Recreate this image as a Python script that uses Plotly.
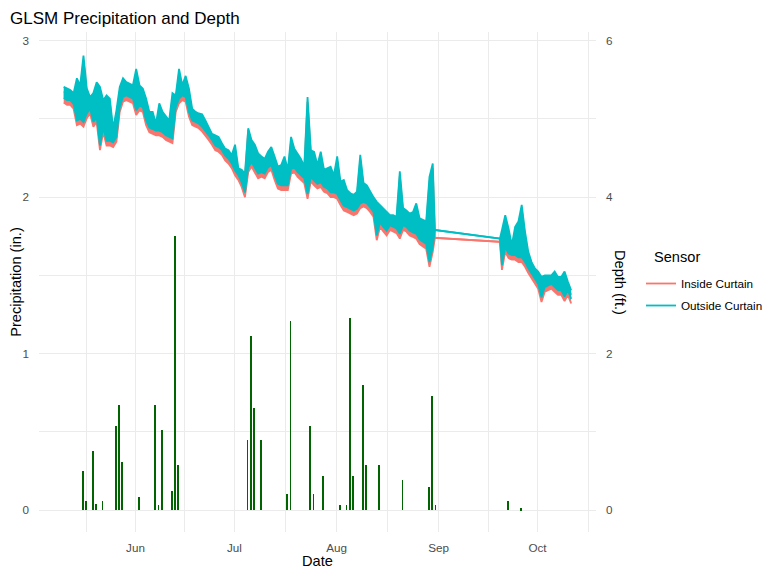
import pandas as pd
import plotly.graph_objects as go

# ---------------- Precipitation (in.) ----------------
precip_dates = [
    "2023-05-16", "2023-05-17", "2023-05-19", "2023-05-20", "2023-05-22",
    "2023-05-26", "2023-05-27", "2023-05-28", "2023-06-02", "2023-06-07",
    "2023-06-08", "2023-06-09", "2023-06-12", "2023-06-13", "2023-06-14",
    "2023-07-05", "2023-07-06", "2023-07-07", "2023-07-09", "2023-07-17",
    "2023-07-18", "2023-07-24", "2023-07-25", "2023-07-28", "2023-08-02",
    "2023-08-04", "2023-08-05", "2023-08-06", "2023-08-09", "2023-08-10",
    "2023-08-14", "2023-08-21", "2023-08-29", "2023-08-30", "2023-08-31",
    "2023-09-22", "2023-09-26",
]
precip_in = [
    0.25, 0.06, 0.38, 0.04, 0.06,
    0.54, 0.67, 0.31, 0.08, 0.67,
    0.03, 0.51, 0.12, 1.75, 0.29,
    0.45, 1.11, 0.65, 0.45, 0.10,
    1.21, 0.54, 0.10, 0.22, 0.03,
    0.03, 1.23, 0.22, 0.80, 0.29,
    0.29, 0.19, 0.15, 0.73, 0.03,
    0.06, 0.01,
]

# ---------------- Depth (ft.): daily high / low of the logger readings ----------------
seg1_start = "2023-05-10 05:00"   # daily samples May 10 .. Aug 30
out_hi_1 = [
    5.41, 5.39, 5.37, 5.33, 5.52, 5.43, 5.81, 5.39, 5.28, 5.33,
    5.47, 5.41, 5.24, 5.30, 5.26, 4.88, 5.11, 5.41, 5.52, 5.47,
    5.45, 5.43, 5.64, 5.43, 5.39, 5.26, 5.09, 5.09, 4.94, 5.20,
    5.09, 5.03, 4.98, 5.33, 5.30, 5.64, 5.43, 5.55, 5.39, 5.13,
    5.09, 5.07, 5.06, 4.98, 4.90, 4.81, 4.79, 4.77, 4.69, 4.62,
    4.60, 4.54, 4.67, 4.37, 4.35, 4.30, 4.88, 4.73, 4.67, 4.56,
    4.52, 4.49, 4.58, 4.64, 4.52, 4.39, 4.41, 4.52, 4.35, 4.77,
    4.62, 4.56, 4.49, 4.39, 5.28, 4.60, 4.58, 4.41, 4.58, 4.35,
    4.37, 4.39, 4.28, 4.52, 4.20, 4.22, 4.09, 4.05, 4.03, 4.07,
    4.54, 4.18, 4.15, 4.07, 4.00, 3.94, 3.90, 3.86, 3.81, 3.77,
    3.77, 3.75, 4.33, 3.86, 3.83, 3.79, 3.81, 3.92, 3.73, 3.71,
    3.69, 4.26, 4.43,
]
out_lo_1 = [
    5.27, 5.24, 5.24, 5.19, 4.98, 5.00, 4.96, 5.07, 5.13, 4.96,
    5.02, 4.66, 4.89, 4.72, 4.72, 4.70, 4.77, 5.15, 5.28, 5.30,
    5.28, 5.26, 5.11, 5.17, 5.15, 4.98, 4.89, 4.87, 4.85, 4.85,
    4.83, 4.79, 4.77, 4.75, 5.15, 5.26, 5.30, 5.28, 5.09, 4.98,
    4.96, 4.94, 4.90, 4.85, 4.79, 4.73, 4.66, 4.64, 4.60, 4.53,
    4.49, 4.43, 4.34, 4.28, 4.19, 4.06, 4.38, 4.45, 4.38, 4.30,
    4.32, 4.30, 4.38, 4.41, 4.28, 4.17, 4.15, 4.15, 4.15, 4.36,
    4.38, 4.32, 4.28, 4.24, 4.04, 4.26, 4.21, 4.17, 4.19, 4.13,
    4.11, 4.06, 4.06, 4.04, 3.96, 3.89, 3.87, 3.85, 3.83, 3.85,
    3.92, 3.94, 3.92, 3.87, 3.81, 3.51, 3.68, 3.62, 3.57, 3.64,
    3.62, 3.60, 3.53, 3.64, 3.62, 3.57, 3.55, 3.53, 3.46, 3.43,
    3.40, 3.17, 3.36,
]
in_hi_1 = [
    5.35, 5.33, 5.31, 5.27, 5.46, 5.37, 5.75, 5.33, 5.22, 5.27,
    5.41, 5.35, 5.18, 5.24, 5.20, 4.82, 5.05, 5.35, 5.46, 5.41,
    5.39, 5.37, 5.58, 5.37, 5.33, 5.20, 5.03, 5.03, 4.88, 5.14,
    5.03, 4.97, 4.92, 5.27, 5.24, 5.58, 5.37, 5.49, 5.33, 5.07,
    5.03, 5.01, 5.00, 4.92, 4.84, 4.75, 4.73, 4.71, 4.63, 4.56,
    4.54, 4.48, 4.61, 4.31, 4.29, 4.24, 4.86, 4.67, 4.61, 4.50,
    4.46, 4.43, 4.52, 4.58, 4.46, 4.33, 4.35, 4.46, 4.29, 4.71,
    4.56, 4.50, 4.43, 4.33, 5.22, 4.54, 4.52, 4.35, 4.52, 4.29,
    4.31, 4.33, 4.22, 4.46, 4.14, 4.16, 4.03, 3.99, 3.97, 4.01,
    4.48, 4.12, 4.09, 4.01, 3.94, 3.88, 3.84, 3.80, 3.75, 3.71,
    3.71, 3.69, 4.27, 3.80, 3.77, 3.73, 3.75, 3.86, 3.67, 3.65,
    3.63, 4.20, 4.37,
]
in_lo_1 = [
    5.21, 5.18, 5.18, 5.13, 4.92, 4.94, 4.90, 5.01, 5.07, 4.90,
    4.96, 4.60, 4.83, 4.66, 4.66, 4.64, 4.71, 5.09, 5.22, 5.24,
    5.22, 5.20, 5.05, 5.11, 5.09, 4.92, 4.83, 4.81, 4.79, 4.79,
    4.77, 4.73, 4.71, 4.69, 5.09, 5.20, 5.24, 5.22, 5.03, 4.92,
    4.90, 4.88, 4.84, 4.79, 4.73, 4.67, 4.60, 4.58, 4.54, 4.47,
    4.43, 4.37, 4.28, 4.22, 4.13, 4.00, 4.32, 4.39, 4.32, 4.24,
    4.26, 4.24, 4.32, 4.35, 4.22, 4.11, 4.09, 4.09, 4.09, 4.30,
    4.32, 4.26, 4.22, 4.18, 3.98, 4.20, 4.15, 4.11, 4.13, 4.07,
    4.05, 4.00, 4.00, 3.98, 3.90, 3.83, 3.81, 3.79, 3.77, 3.79,
    3.86, 3.88, 3.86, 3.81, 3.75, 3.45, 3.62, 3.56, 3.51, 3.58,
    3.56, 3.54, 3.47, 3.58, 3.56, 3.51, 3.49, 3.47, 3.40, 3.37,
    3.34, 3.11, 3.30,
]

# readings on either side of the data gap (single values)
gap_dates = ["2023-08-30 21:00", "2023-09-19 14:00"]
out_gap = [3.58, 3.47]
in_gap = [3.48, 3.43]

seg2_start = "2023-09-20 05:00"   # daily samples Sep 20 .. Oct 11
out_hi_2 = [3.58, 3.77, 3.60, 3.39, 3.62, 3.69, 3.90, 3.56, 3.30, 3.17, 3.09,
            3.05, 2.98, 3.00, 3.00, 3.00, 3.05, 2.98, 2.98, 3.05, 2.92, 2.81]
out_lo_2 = [3.13, 3.36, 3.28, 3.26, 3.26, 3.23, 3.23, 3.17, 3.09, 3.02, 2.96,
            2.89, 2.72, 2.85, 2.87, 2.89, 2.85, 2.81, 2.81, 2.73, 2.81, 2.70]
in_hi_2 = [3.52, 3.71, 3.54, 3.33, 3.56, 3.63, 3.84, 3.50, 3.24, 3.11, 3.03,
           2.99, 2.92, 2.94, 2.94, 2.94, 2.99, 2.92, 2.92, 2.99, 2.86, 2.75]
in_lo_2 = [3.07, 3.30, 3.22, 3.20, 3.20, 3.17, 3.17, 3.11, 3.03, 2.96, 2.90,
           2.83, 2.66, 2.79, 2.81, 2.83, 2.79, 2.75, 2.75, 2.67, 2.75, 2.64]

month_ticks = ["2023-06-01", "2023-07-01", "2023-08-01", "2023-09-01", "2023-10-01"]
month_labels = ["Jun", "Jul", "Aug", "Sep", "Oct"]
minor_ticks = ["2023-05-17", "2023-06-16", "2023-07-16 12:00", "2023-08-16 12:00",
               "2023-09-16", "2023-10-16 12:00"]

# ---------------- assemble ----------------
d1 = list(pd.date_range(seg1_start, periods=len(out_hi_1), freq="D").strftime("%Y-%m-%d %H:%M"))
d2 = list(pd.date_range(seg2_start, periods=len(out_hi_2), freq="D").strftime("%Y-%m-%d %H:%M"))
depth_dates = d1 + gap_dates + d2

series = {
    "Inside Curtain": ("#F8766D", in_hi_1 + in_gap + in_hi_2, in_lo_1 + in_gap + in_lo_2),
    "Outside Curtain": ("#00BFC4", out_hi_1 + out_gap + out_hi_2, out_lo_1 + out_gap + out_lo_2),
}

FONT = "Liberation Sans, Arial, sans-serif"
GRID = "#EBEBEB"
TICK = "#4D4D4D"

W, H = 766, 561
PL, PR, PT, PB = 31, 588, 24, 524          # plot area in figure pixels
PW, PH = PR - PL, PB - PT


def px_x(px):
    return (px - PL) / PW


def px_y(py):
    return 1 - (py - PT) / PH


fig = go.Figure()
fig.add_trace(go.Bar(
    x=precip_dates, y=precip_in, yaxis="y",
    marker=dict(color="#006400", line=dict(width=0)),
    width=0.22 * 86400000, showlegend=False, name="Precipitation",
))

for name, (color, hi, lo) in series.items():
    fig.add_trace(go.Scatter(
        x=depth_dates, y=lo, yaxis="y2", mode="lines", name=name,
        line=dict(color=color, width=1.8), legendgroup=name,
    ))
    fig.add_trace(go.Scatter(
        x=depth_dates, y=hi, yaxis="y2", mode="lines", name=name,
        line=dict(color=color, width=1.8), fill="tonexty", fillcolor=color,
        legendgroup=name, showlegend=False,
    ))

fig.update_layout(
    width=W, height=H, autosize=False,
    margin=dict(l=PL, r=W - PR, t=PT, b=H - PB, pad=0, autoexpand=False),
    paper_bgcolor="white", plot_bgcolor="white",
    font=dict(family=FONT, color="black"),
    title=dict(text="GLSM Precipitation and Depth", x=2 / W, xanchor="left",
               xref="container", y=1 - 9.6 / H, yanchor="middle", yref="container",
               font=dict(size=17, color="black"), automargin=False),
    xaxis=dict(
        type="date", range=["2023-05-02 17:00", "2023-10-18 18:00"], automargin=False,
        tickmode="array", tickvals=month_ticks, ticktext=month_labels,
        showgrid=True, gridcolor=GRID, gridwidth=1, zeroline=False, showline=False,
        ticks="", tickfont=dict(size=11.7, color=TICK), ticklabelstandoff=7,
        minor=dict(tickmode="array", tickvals=minor_ticks, showgrid=True,
                   gridcolor=GRID, gridwidth=0.8, ticks=""),
        title=dict(text="Date", font=dict(size=14.6, color="black"), standoff=5),
    ),
    yaxis=dict(
        range=[-0.1406, 3.0557], automargin=False, tickmode="array", tickvals=[0, 1, 2, 3],
        ticktext=["0", "1", "2", "3"],
        showgrid=True, gridcolor=GRID, gridwidth=1, zeroline=False, showline=False,
        ticks="", tickfont=dict(size=11.7, color=TICK), ticklabelstandoff=9,
        minor=dict(tickmode="array", tickvals=[0.5, 1.5, 2.5], showgrid=True,
                   gridcolor=GRID, gridwidth=0.8, ticks=""),
        title=dict(text="Precipitation (in.)", font=dict(size=14.6, color="black"), standoff=0),
    ),
    yaxis2=dict(
        overlaying="y", side="right", range=[-0.2812, 6.1114], automargin=False,
        tickmode="array", tickvals=[0, 2, 4, 6], ticktext=["0", "2", "4", "6"],
        showgrid=False, zeroline=False, showline=False, ticks="",
        tickfont=dict(size=11.7, color=TICK), ticklabelstandoff=9,
    ),
    legend=dict(
        x=px_x(633), xanchor="left", y=px_y(261), yanchor="top",
        font=dict(size=11.7, color="black"), itemwidth=30, tracegroupgap=3,
        bgcolor="rgba(0,0,0,0)",
    ),
    annotations=[
        dict(text="Depth (ft.)", textangle=90, xref="paper", yref="paper",
             x=px_x(612), y=0.5, xanchor="center", yanchor="middle",
             showarrow=False, font=dict(size=14.6, color="black")),
        dict(text="Sensor", xref="paper", yref="paper",
             x=px_x(644), y=px_y(249), xanchor="left", yanchor="middle",
             showarrow=False, font=dict(size=14.6, color="black")),
    ],
    bargap=0,
)

fig.write_html("out.html")
